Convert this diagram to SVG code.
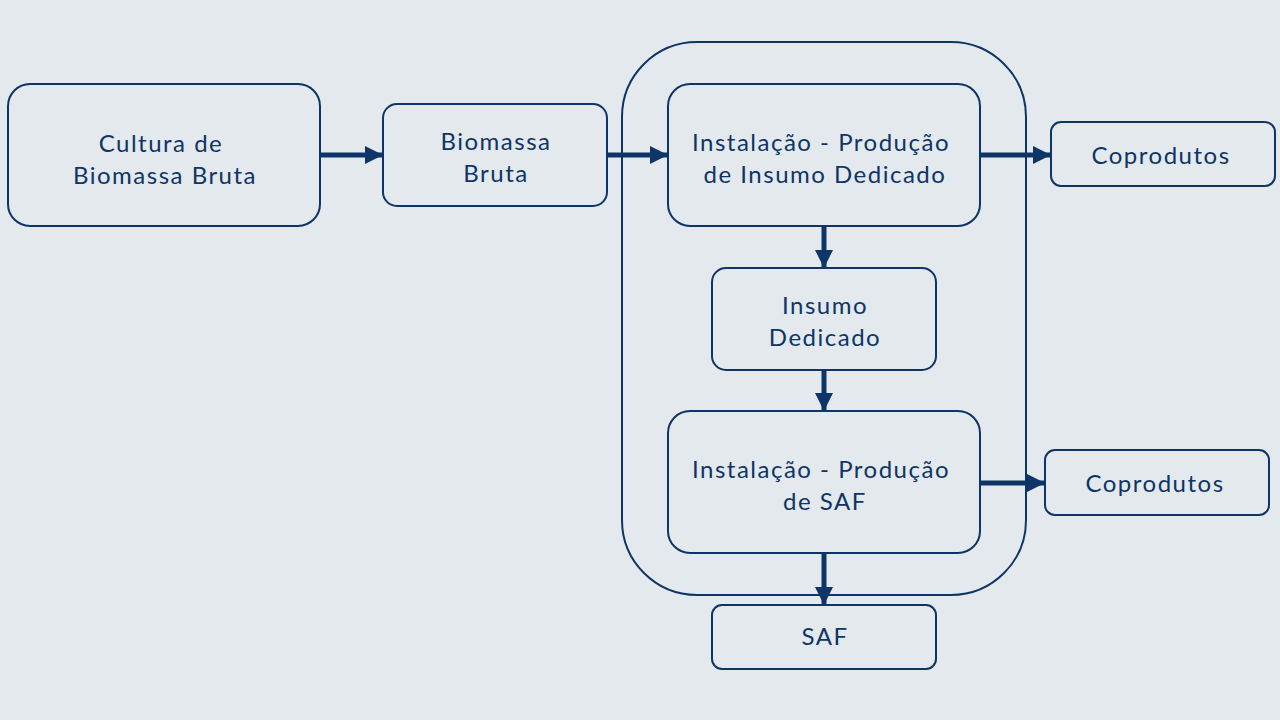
<svg xmlns="http://www.w3.org/2000/svg" width="1280" height="720" viewBox="0 0 1280 720">
<style>
.n{fill:#e4e9ee;stroke:#0e3567;stroke-width:2}
.t{font-family:Lato,"Noto Sans",sans-serif;font-size:24px;fill:#0e3567;text-anchor:middle;letter-spacing:1.5px}
.c{stroke:#0e3567;stroke-width:5;fill:none}
</style>
<defs>
<marker id="ah" markerUnits="userSpaceOnUse" markerWidth="20" markerHeight="20" viewBox="0 0 20 20" refX="18" refY="10" orient="auto">
<path d="M0,1 L18,10 L0,19 Z" fill="#0e3567"/>
</marker>
</defs>
<rect width="1280" height="720" fill="#e4e9ee"/>
<g id="container"><rect x="622" y="42" width="404" height="553" rx="75" fill="none" stroke="#0e3567" stroke-width="2"/></g>
<g id="cultura"><rect class="n" x="8" y="84" width="312" height="142" rx="22"/><text class="t" x="161" y="152">Cultura de</text><text class="t" x="165" y="184">Biomassa Bruta</text></g>
<g id="biomassa"><rect class="n" x="383" y="104" width="224" height="102" rx="14"/><text class="t" x="496" y="150">Biomassa</text><text class="t" x="496" y="182">Bruta</text></g>
<g id="inst1"><rect class="n" x="668" y="84" width="312" height="142" rx="22"/><text class="t" x="821" y="151">Instalação - Produção</text><text class="t" x="825" y="183">de Insumo Dedicado</text></g>
<g id="insumo"><rect class="n" x="712" y="268" width="224" height="102" rx="14"/><text class="t" x="825" y="314">Insumo</text><text class="t" x="825" y="346">Dedicado</text></g>
<g id="inst2"><rect class="n" x="668" y="411" width="312" height="142" rx="22"/><text class="t" x="821" y="478">Instalação - Produção</text><text class="t" x="825" y="510">de SAF</text></g>
<g id="saf"><rect class="n" x="712" y="605" width="224" height="64" rx="10"/><text class="t" x="825" y="645">SAF</text></g>
<g id="coprod1"><rect class="n" x="1051" y="122" width="224" height="64" rx="10"/><text class="t" x="1161" y="164">Coprodutos</text></g>
<g id="coprod2"><rect class="n" x="1045" y="450" width="224" height="65" rx="10"/><text class="t" x="1155" y="492">Coprodutos</text></g>
<g id="connectors">
<line class="c" x1="320" y1="155" x2="383" y2="155" marker-end="url(#ah)"/>
<line class="c" x1="607" y1="155" x2="668" y2="155" marker-end="url(#ah)"/>
<line class="c" x1="980" y1="155" x2="1051" y2="155" marker-end="url(#ah)"/>
<line class="c" x1="980" y1="483" x2="1045" y2="483" marker-end="url(#ah)"/>
<line class="c" x1="824" y1="226" x2="824" y2="268" marker-end="url(#ah)"/>
<line class="c" x1="824" y1="370" x2="824" y2="411" marker-end="url(#ah)"/>
<line class="c" x1="824" y1="553" x2="824" y2="605" marker-end="url(#ah)"/>
</g>
</svg>
